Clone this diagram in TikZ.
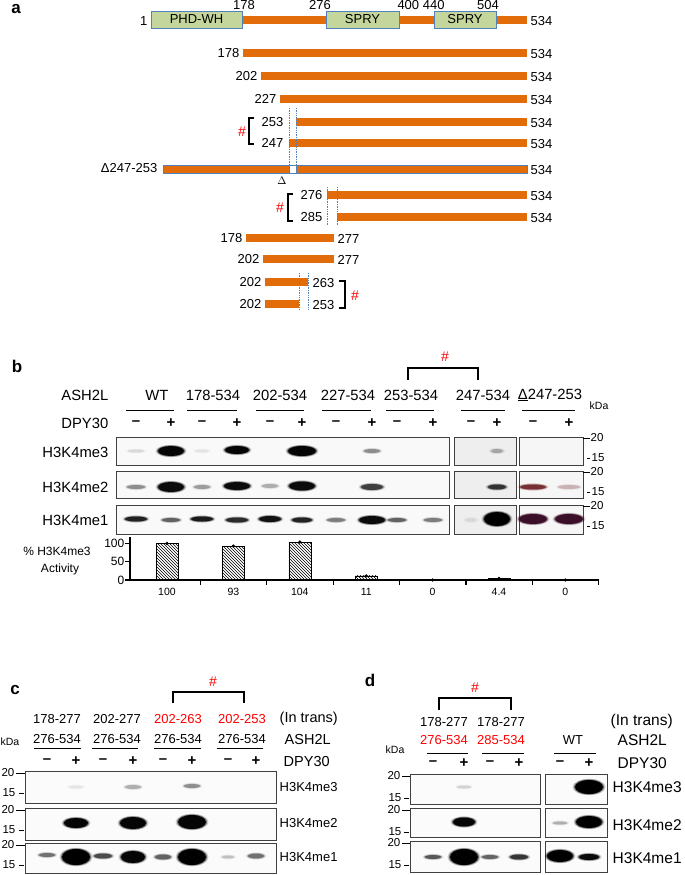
\documentclass[tikz,border=0pt]{standalone}
\usepackage{fontspec}
\setmainfont{Liberation Sans}
\usetikzlibrary{patterns}
\definecolor{orangebar}{RGB}{227,108,10}
\definecolor{domfill}{RGB}{196,214,155}
\definecolor{domline}{RGB}{79,129,189}
\definecolor{blotedge}{RGB}{64,64,64}
\definecolor{redband}{RGB}{105,25,30}
\definecolor{purpleband}{RGB}{55,10,35}
\newcommand{\fsz}[1]{\fontsize{#1}{#1}\selectfont}
\newcommand{\blotband}[6]{%
  \pgfmathsetmacro{\opa}{#6*0.2}\pgfmathsetmacro{\opb}{#6*0.45}%
  \fill[#1, opacity=\opa] (#2,#3) ellipse ({#4+2.5} and {#5+1.2});
  \fill[#1, opacity=\opb] (#2,#3) ellipse ({#4+1.2} and {#5+0.6});
  \fill[#1, opacity=#6] (#2,#3) ellipse ({#4} and {#5});}

\begin{document}
\begin{tikzpicture}[x=1pt, y=-1pt, every node/.style={inner sep=1.5pt},
  la/.style={font=\fsz{13}}, lb/.style={font=\fsz{14.8}}, lc/.style={font=\fsz{13}},
  sign/.style={font=\fsz{15}\bfseries}, side/.style={font=\fsz{15}, anchor=west}, kda/.style={font=\fsz{11.5}},
  letter/.style={font=\fsz{17}\bfseries}, hash/.style={text=red, font=\fsz{14}},
  blot/.style={draw=blotedge, line width=1pt}, brk/.style={line width=1.1pt},
  cut/.style={domline, densely dotted, line width=0.7pt}]
	\useasboundingbox (0,0) rectangle (685,875);

	\node[letter] (pa) at (16,9) {a};
	\fill[orangebar] (242,16) rectangle (527,24);
	\foreach \s/\e/\t [count=\i] in {151/242/PHD-WH, 326/399/SPRY, 434/496/SPRY} {
		\draw[domline, fill=domfill, line width=0.8pt] (\s,11) rectangle (\e,28);
		\node[la] (dom\i) at ({(\s+\e)/2},19.5) {\t};
	}
	\foreach \x/\t [count=\i] in {244/178, 320/276, 421/400 440, 488/504}
		\node[la] (top\i) at (\x,5) {\t};
	\node[la, anchor=east] (first) at (149,21) {1};
	\node[la, anchor=west] (last) at (529,21) {534};
	\foreach \y/\s/\e/\ls/\le/\lx/\rx [count=\i] in {53/243/527/178/534/241/529, 76/261/527/202/534/259/529, 99/280/527/227/534/278/529, 122/296/527/253/534/285/529, 143/289/527/247/534/285/529, 195/327/527/276/534/324/529, 217/337/527/285/534/324/529, 238/246/334/178/277/244/336, 259/263/334/202/277/261/336, 282/265/308/202/263/263/311, 304/265/299/202/253/263/311} {
		\fill[orangebar] (\s,\y-4) rectangle (\e,\y+4);
		\node[la, anchor=east] (from\i) at (\lx,\y) {\ls};
		\node[la, anchor=west] (to\i) at (\rx,\y+1) {\le};
	}
	\draw[domline, fill=orangebar, line width=0.6pt] (163,165) rectangle (527,173);
	\draw[domline, fill=white, line width=0.6pt] (289,165) rectangle (296,173);
	\node[la, anchor=east] (del) at (159,168) {Δ247-253};
	\node[la, anchor=west] (delend) at (529,170) {534};
	\node[font=\fsz{11}] (delmark) at (282,181) {$\Delta$};
	\draw[cut] (289,108) -- (289,165); \draw[cut] (296,108) -- (296,165);
	\draw[cut] (327,187) -- (327,225); \draw[cut] (337,187) -- (337,225);
	\draw[cut] (299,273) -- (299,310); \draw[cut] (308,273) -- (308,310);
	\draw[brk] (254,118) -- (249,118) -- (249,144) -- (254,144);
	\node[hash] (h1) at (242,132) {\#};
	\draw[brk] (293,194) -- (288,194) -- (288,221) -- (293,221);
	\node[hash] (h2) at (280,208) {\#};
	\draw[brk] (339,281) -- (345,281) -- (345,308) -- (339,308);
	\node[hash] (h3) at (355,296) {\#};

	\node[letter] (pb) at (17,366) {b};
	\draw[brk] (408,380) -- (408,368) -- (478,368) -- (478,380);
	\node[hash] (h4) at (445,357) {\#};
	\node[lb, anchor=east] (ash) at (110,395) {ASH2L};
	\node[lb, anchor=east] (dpy) at (110,423) {DPY30};
	\foreach \c/\l/\r/\t [count=\i] in {157/126/174/WT, 213/187/237/178-534, 280/256/304/202-534, 348/322/371/227-534, 411/386/434/253-534, 483/461/505/247-534, 550/522/575/\underline{Δ}247-253} {
		\node[lb] (gb\i) at (\c,395) {\t};
		\draw[line width=0.9pt] (\l,410) -- (\r,410);
	}
	\foreach \x [count=\i] in {136,171,202,237,270,302,336,372,397,433,471,497,533,569}
		\node[sign] (sb\i) at (\x,423) {\ifodd\i –\else +\fi};
	\node[font=\fsz{10.5}, anchor=west] (kb) at (588,406) {kDa};
	\foreach \tp/\bt [count=\i] in {437/465, 471/498, 505/534} {
		\draw[blot, fill=gray!5] (116,\tp) rectangle (449,\bt);
		\draw[blot, fill=gray!13] (454,\tp) rectangle (516,\bt);
		\draw[blot, fill=blue!2!gray!7] (519,\tp) rectangle (583,\bt);
		\draw (583,\tp+1) -- (590,\tp+1);
		\node[kda, anchor=west] (mb\i) at (589,\tp+1) {20};
		\draw (587,\tp+21) -- (590,\tp+21);
		\node[kda, anchor=west] (nb\i) at (590,\tp+21) {15};
	}
	\foreach \y/\t [count=\i] in {452/H3K4me3, 487/H3K4me2, 520/H3K4me1}
		\node[lb, anchor=east] (rb\i) at (110,\y) {\t};
	\foreach \x/\y/\rx/\ry/\o in {136/451/8/1.5/0.08, 171/451/13/5/0.95, 202/451/7/1.5/0.05, 237/450/12/4/0.95, 302/451/14/5/0.95, 372/451/8/2/0.3, 497/451/6/2/0.2, 136/487/9/2/0.3, 171/487/13/5/0.9, 202/487/8/2/0.25, 237/486/13/4/0.9, 270/486/8/2/0.2, 302/486/13/4.5/0.9, 372/487/11/3/0.6, 497/487/9/2.5/0.65, 136/519/11/2.5/0.75, 171/520/9/2/0.45, 202/519/11/2.5/0.8, 237/520/11/2.5/0.7, 270/519/11/3/0.85, 302/520/10/2.5/0.75, 336/520/9/2/0.35, 372/520/13/4/0.9, 397/520/9/2/0.45, 433/520/9/2/0.35, 471/520/6/2/0.05, 497/519/13/7/1}
		{\blotband{black}{\x}{\y}{\rx}{\ry}{\o}}
	\blotband{redband}{533}{487}{13}{2.5}{0.8}
	\blotband{redband}{569}{487}{11}{2}{0.2}
	\blotband{purpleband}{533}{519}{14}{5}{0.95}
	\blotband{purpleband}{569}{519}{14}{5}{0.95}

	\node[font=\fsz{12}] (act1) at (57,551) {\% H3K4me3};
	\node[font=\fsz{12}] (act2) at (60,569) {Activity};
	\draw[line width=1.4pt] (130,537) -- (130,580) -- (599,580);
	\foreach \v in {0,50,100} {
		\draw[line width=1.2pt] (125,{580-0.365*\v}) -- (130,{580-0.365*\v});
		\node[font=\fsz{12}, anchor=east] (ax\v) at (126,{580-0.365*\v}) {\v};
	}
	\foreach \i in {1,...,7}
		\draw[line width=1.2pt] ({134+66.4*\i},580) -- ({134+66.4*\i},585);
	\foreach \v [count=\i] in {100,93,104,11,0,4.4,0} {
		\pgfmathsetmacro{\cx}{167+66.4*(\i-1)}
		\draw[pattern=north west lines, line width=0.6pt] (\cx-11,580) rectangle (\cx+11,{580-0.365*\v});
		\fill (\cx,{580-0.365*\v}) circle (1.8);
		\node[font=\fsz{10.5}] (val\i) at (\cx,592) {\v};
	}

	\node[letter] (pc) at (15,690) {c};
	\draw[brk] (173,703) -- (173,692) -- (244,692) -- (244,703);
	\node[hash] (h5) at (213,682) {\#};
	\foreach \c/\ta/\col/\l/\r [count=\i] in {57/178-277/black/34/81, 117/202-277/black/92/138, 178/202-263/red/154/201, 242/202-253/red/217/263} {
		\node[lc, text=\col] (tc\i) at (\c,719) {\ta};
		\node[lc] (uc\i) at (\c,739) {276-534};
		\draw[line width=0.9pt] (\l,748) -- (\r,748);
	}
	\node[side, font=\fsz{14.5}] (trc) at (278,719) {(In trans)};
	\node[side, font=\fsz{14.5}] (ashc) at (283,739) {ASH2L};
	\node[side, font=\fsz{14.5}] (dpyc) at (282,761) {DPY30};
	\node[font=\fsz{10.5}] (kc) at (10,742) {kDa};
	\foreach \x [count=\i] in {47,76,103,133,163,192,228,256}
		\node[sign] (sc\i) at (\x,761) {\ifodd\i –\else +\fi};
	\foreach \tp/\bt/\y/\lab [count=\i] in {771/803/787/H3K4me3, 808/840/823/H3K4me2, 843/873/857/H3K4me1} {
		\draw[blot, fill=gray!3] (25,\tp) rectangle (276,\bt);
		\node[lc, anchor=west] (rc\i) at (278,\y) {\lab};
	}
	\foreach \tp [count=\i] in {771,808,843} {
		\node[kda, anchor=east] (mc\i) at (16,\tp+2) {20};
		\draw (16,\tp+2) -- (25,\tp+2);
		\node[kda, anchor=east] (nc\i) at (17,\tp+22) {15};
		\draw (19,\tp+22) -- (24,\tp+22);
	}
	\foreach \x/\y/\rx/\ry/\o in {76/787/7/1.5/0.05, 133/787/8/2/0.2, 192/786/8/2/0.3, 76/823/12/5/0.95, 133/823/13/6/0.95, 192/822/14/7/0.95, 47/855/8/2/0.4, 76/857/14/8/1, 103/856/9/2.5/0.55, 133/857/12/6/0.95, 163/857/8/2.5/0.45, 192/857/14/8/1, 228/857/6/1.5/0.15, 256/856/8/2.5/0.4}
		{\blotband{black}{\x}{\y}{\rx}{\ry}{\o}}

	\node[letter] (pd) at (370,680) {d};
	\draw[brk] (439,710) -- (439,698) -- (511,698) -- (511,710);
	\node[hash] (h6) at (475,688) {\#};
	\node[lc] (td1) at (444,722) {178-277};
	\node[lc] (td2) at (501,722) {178-277};
	\node[lc, text=red] (ud1) at (444,740) {276-534};
	\node[lc, text=red] (ud2) at (501,740) {285-534};
	\node[lc] (ud3) at (573,740) {WT};
	\foreach \l/\r in {427/468, 482/524, 554/596}
		\draw[line width=0.9pt] (\l,753) -- (\r,753);
	\node[side, font=\fsz{15.5}] (trd) at (609,721) {(In trans)};
	\node[side, font=\fsz{15.5}] (ashd) at (616,740) {ASH2L};
	\node[side, font=\fsz{15.5}] (dpyd) at (616,763) {DPY30};
	\node[font=\fsz{10.5}] (kd) at (395,750) {kDa};
	\foreach \x [count=\i] in {433,464,490,519,560,589}
		\node[sign] (sd\i) at (\x,763) {\ifodd\i –\else +\fi};
	\foreach \tp/\bt/\y/\lab [count=\i] in {774/804/787/H3K4me3, 808/837/825/H3K4me2, 841/872/858/H3K4me1} {
		\draw[blot, fill=gray!3] (410,\tp) rectangle (540,\bt);
		\draw[blot, fill=gray!3] (545,\tp) rectangle (607,\bt);
		\node[side, font=\fsz{15.5}] (rd\i) at (611,\y) {\lab};
	}
	\foreach \tp [count=\i] in {774,808,841} {
		\node[kda, anchor=east] (md\i) at (402,\tp+2) {20};
		\draw (402,\tp+2) -- (410,\tp+2);
		\node[kda, anchor=east] (nd\i) at (403,\tp+24) {15};
		\draw (404,\tp+24) -- (409,\tp+24);
	}
	\foreach \x/\y/\rx/\ry/\o in {464/787/7/1.5/0.1, 589/787/14/7/1, 464/822/11/4.5/0.95, 560/823/7/1.5/0.2, 589/822/13/6/1, 433/857/8/2/0.5, 464/857/14/8/1, 490/857/8/2/0.45, 519/857/9/2.5/0.65, 560/856/13/6/1, 589/857/10/3/0.9}
		{\blotband{black}{\x}{\y}{\rx}{\ry}{\o}}
\end{tikzpicture}
\end{document}
